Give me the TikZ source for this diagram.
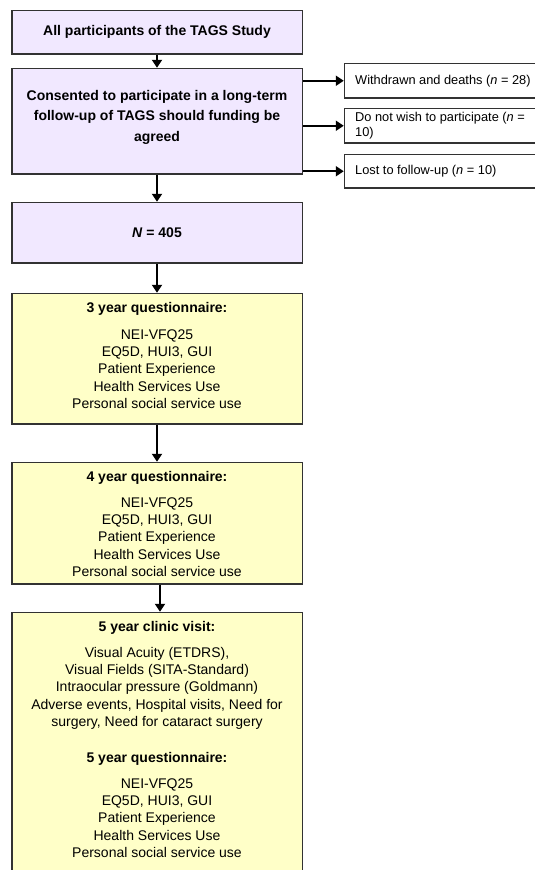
\documentclass[tikz,border=0pt]{standalone}
\usepackage{fontspec}
\setmainfont{Liberation Sans}
\usetikzlibrary{arrows.meta}
\definecolor{lav}{RGB}{241,232,255}
\definecolor{yel}{RGB}{255,255,200}
\definecolor{bord}{RGB}{50,50,50}
\begin{document}
\begin{tikzpicture}[x=1pt,y=-1pt,
  box/.style={draw=bord, line width=1.5pt, minimum width=290.5pt, inner sep=0pt, anchor=north},
  pbox/.style={box, fill=lav},
  ybox/.style={box, fill=yel},
  sidebox/.style={draw=bord, line width=1.5pt, fill=white, minimum width=210pt, inner sep=0pt, anchor=north west},
  txt/.style={align=center, inner sep=0pt, font=\fontsize{14}{17.2}\selectfont},
  btxt/.style={align=center, inner sep=0pt, font=\fontsize{14}{20.5}\selectfont\bfseries},
  stxt/.style={align=left, inner sep=0pt, anchor=west, font=\fontsize{12.8}{15}\selectfont},
  arr/.style={-{Triangle[width=10pt,length=8pt]}, line width=1.9pt, black}
]
\useasboundingbox (0,0) rectangle (535,870);
\clip (0,0) rectangle (535,870);

% main column
\node[pbox, minimum height=43.5pt, font=\fontsize{14}{17}\selectfont\bfseries] (b1) at (157,9.75) {All participants of the TAGS Study};
\node[pbox, minimum height=105.5pt] (b2) at (157,67.75) {};
\node[btxt] (t2) at (157,117) {Consented to participate in a long-term\\follow-up of TAGS should funding be\\agreed};
\node[pbox, minimum height=60.5pt, font=\fontsize{14}{17}\selectfont\bfseries] (b3) at (157,201.75) {\textit{N} = 405};
\node[ybox, minimum height=130.5pt] (b4) at (157,292.75) {};
\node[txt, anchor=north] (t4) at (157,302) {\textbf{3 year questionnaire:}\\[10pt]NEI-VFQ25\\EQ5D, HUI3, GUI\\Patient Experience\\Health Services Use\\Personal social service use};
\node[ybox, minimum height=121.5pt] (b5) at (157,461.75) {};
\node[txt, anchor=north] (t5) at (157,471) {\textbf{4 year questionnaire:}\\[9pt]NEI-VFQ25\\EQ5D, HUI3, GUI\\Patient Experience\\Health Services Use\\Personal social service use};
\node[ybox, minimum height=280pt] (b6) at (157,611.75) {};
\node[txt, anchor=north] (t6) at (157,621) {\textbf{5 year clinic visit:}\\[9pt]Visual Acuity (ETDRS),\\Visual Fields (SITA-Standard)\\Intraocular pressure (Goldmann)\\Adverse events, Hospital visits, Need for\\surgery, Need for cataract surgery\\[18.8pt]\textbf{5 year questionnaire:}\\[9pt]NEI-VFQ25\\EQ5D, HUI3, GUI\\Patient Experience\\Health Services Use\\Personal social service use};

% side boxes
\node[sidebox, minimum height=34.5pt] (sa) at (343.75,62.75) {};
\node[stxt] (ta) at (355,81) {Withdrawn and deaths (\textit{n} = 28)};
\node[sidebox, minimum height=34.5pt] (sb) at (343.75,107.75) {};
\node[stxt] (tb) at (355,125.5) {Do not wish to participate (\textit{n} =\\10)};
\node[sidebox, minimum height=33.5pt] (sc) at (343.75,153.75) {};
\node[stxt] (tc) at (355,171.5) {Lost to follow-up (\textit{n} = 10)};

% connectors
\draw[arr] (b1.south) -- (b2.north);
\draw[arr] (b2.south) -- (b3.north);
\draw[arr] (b3.south) -- (b4.north);
\draw[arr] (b4.south) -- (b5.north);
\draw[arr] ([xshift=3pt]b5.south) -- ([xshift=3pt]b6.north);
\draw[arr] (b2.east |- sa.west) -- (sa.west);
\draw[arr] (b2.east |- sb.west) -- (sb.west);
\draw[arr] (b2.east |- sc.west) -- (sc.west);
\end{tikzpicture}
\end{document}
